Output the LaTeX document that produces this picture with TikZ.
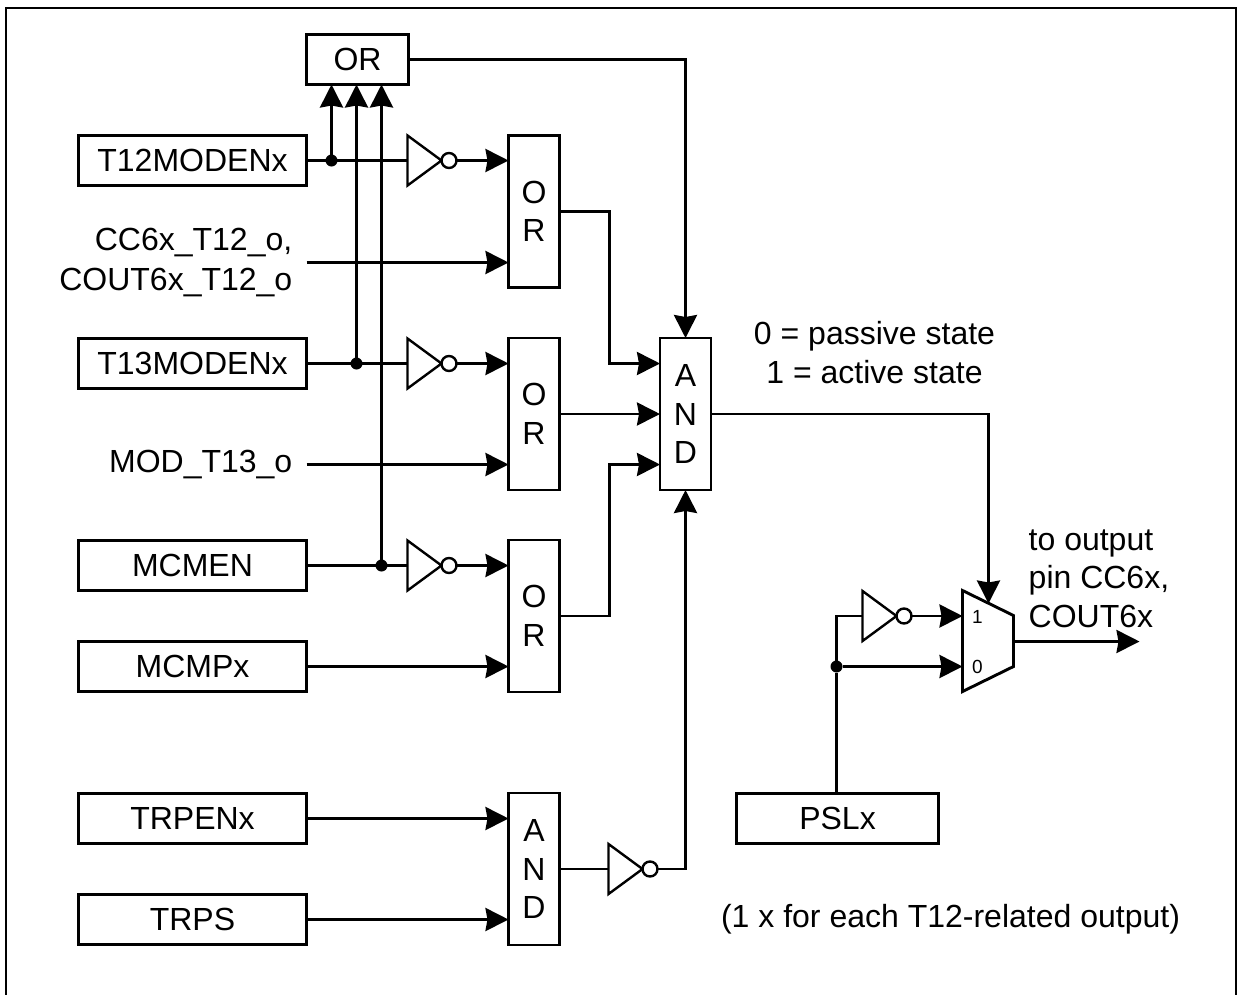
\documentclass[tikz,border=0pt]{standalone}
\usepackage{fontspec}
\setmainfont{Liberation Sans}
\usetikzlibrary{arrows.meta,shapes.geometric}
\newcommand{\txt}{\fontsize{32}{38.5}\selectfont}
\tikzset{
  wire/.style={line width=2.9pt},
  regbox/.style={draw, line width=2.9pt, rectangle, minimum width=228pt, minimum height=50pt, inner sep=0pt, outer sep=0pt},
  gatebox/.style={draw, line width=2.9pt, rectangle, minimum width=51pt, minimum height=152pt, inner sep=0pt, outer sep=0pt, align=center},
  lbl/.style={inner sep=0pt, align=center},
  dot/.style={circle, fill=black, minimum size=12pt, inner sep=0pt, outer sep=0pt},
  invtri/.style={draw, line width=2.4pt, isosceles triangle, isosceles triangle stretches, shape border rotate=0, minimum width=50pt, minimum height=34pt, inner sep=0pt, outer sep=0pt},
  bubble/.style={draw, line width=2.4pt, circle, fill=white, minimum size=15pt, inner sep=0pt, outer sep=0pt},
}
\newcommand{\notgate}[2]{%
  \node[invtri, anchor=lower side] (#1t) at (#2) {};
  \node[bubble, anchor=west] (#1b) at (#1t.apex) {};}
\begin{document}
\begin{tikzpicture}[x=1pt, y=-1pt, font=\txt, >={Stealth[length=23pt,width=23pt,inset=2pt]}]
  \useasboundingbox (0,0) rectangle (1241,994);
  \begin{scope}[xshift=0.5pt, yshift=-0.5pt]
  \draw[wire] (5.5,994) -- (5.5,7.5) -- (1235.5,7.5) -- (1235.5,994);
  % input registers
  \foreach \n/\t/\py in {t12/T12MODENx/160, t13/T13MODENx/363, mcmen/MCMEN/565,
      mcmp/MCMPx/666, trpen/TRPENx/818, trps/TRPS/919}
    {\node[regbox] (\n) at (192,\py) {\t};}
  \node[regbox, minimum width=102pt] (ortop) at (357,59) {OR};
  \node[regbox, minimum width=202pt] (psl) at (837,818) {PSLx};
  % gates
  \foreach \n/\px/\py/\t in {or1/533.5/211/O\\R, or2/533.5/413.5/O\\R, or3/533.5/615.5/O\\R,
      and1/685/413.5/A\\N\\D, and2/533.5/868.5/A\\N\\D}
    {\node[gatebox] (\n) at (\px,\py) {\t};}
  % free text inputs
  \node[lbl, align=right, anchor=east, inner xsep=14pt] (cc) at (306,262) {CC6x\_T12\_o,\\[1pt]COUT6x\_T12\_o};
  \node[lbl, anchor=east, inner xsep=14pt] (mod) at (306,464) {MOD\_T13\_o};
  % inverters
  \notgate{n1}{407,160}
  \notgate{n2}{407,363}
  \notgate{n3}{407,565}
  \notgate{n4}{608,868.5}
  \notgate{n5}{862,615.5}
  % junctions
  \node[dot] (d1) at (331,160) {};
  \node[dot] (d2) at (356,363) {};
  \node[dot] (d3) at (381,565) {};
  \node[dot] (d4) at (836,666) {};
  \foreach \a/\b/\c/\d in {t12/n1/d1/or1, t13/n2/d2/or2, mcmen/n3/d3/or3}
    {\draw[wire] (\a.east) -- (\b t.lower side);
     \draw[wire,->] (\b b.east) -- (\b b.east -| \d.west);
     \draw[wire,->] (\c) -- (\c |- ortop.south);}
  \foreach \a/\d in {cc/or1, mod/or2, mcmp/or3, trpen/and2, trps/and2}
    {\draw[wire,->] (\a.east) -- (\a.east -| \d.west);}
  % into the big AND
  \coordinate (i1) at (and1.west |- 0,363);
  \coordinate (i3) at (and1.west |- 0,464);
  \draw[wire,->] (ortop.east) -| (and1.north);
  \draw[wire,->] (or1.east) -| (609,363) -- (i1);
  \draw[wire,->] (or2.east) -- (and1.west);
  \draw[wire,->] (or3.east) -| (609,464) -- (i3);
  \draw[wire] (and2.east) -- (n4t.lower side);
  \draw[wire,->] (n4b.east) -| (and1.south);
  % output mux
  \coordinate (mt) at (962,590);
  \coordinate (mb) at (962,691);
  \coordinate (mo) at (1013,641);
  \coordinate (mi) at (988,603);
  \coordinate (out) at (1139,641);
  \draw[wire] (mt) -- (1013,615) -- (1013,666) -- (mb) -- cycle;
  \node[lbl, font=\fontsize{19}{22}\selectfont] (m1) at (977,616) {1};
  \node[lbl, font=\fontsize{19}{22}\selectfont] (m0) at (977,666) {0};
  \draw[wire,->] (and1.east) -| (mi);
  \draw[wire,->] (mo) -- (out);
  \draw[wire] (psl.north -| d4) -- (d4) -- (d4 |- n5t.lower side) -- (n5t.lower side);
  \draw[wire,->] (n5b.east) -- (n5b.east -| mt);
  \draw[wire,->] (d4) -- (d4 -| mt);
  % notes
  \node[lbl] (state) at (874,352.5) {0 = passive state\\[0.5pt]1 = active state};
  \node[lbl, align=left, anchor=west] (topin) at (1028,578) {to output\\pin CC6x,\\COUT6x};
  \node[lbl] (note) at (950,919) {(1 x for each T12-related output)};
  \end{scope}
\end{tikzpicture}
\end{document}
